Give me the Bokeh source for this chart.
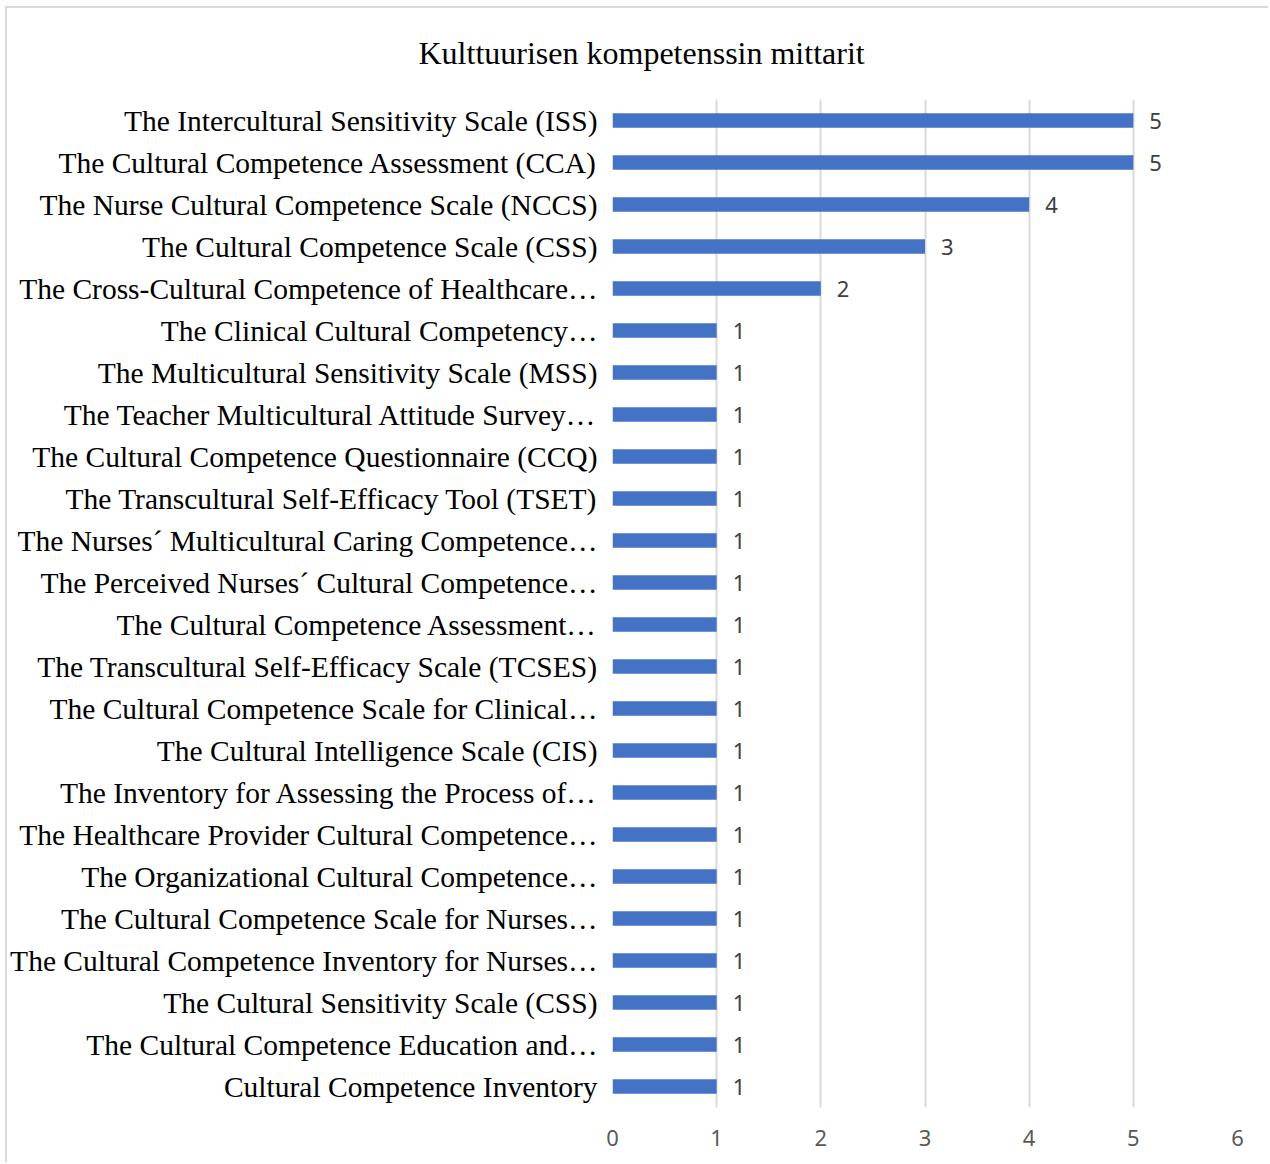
from bokeh.plotting import figure
from bokeh.models import FactorRange, ColumnDataSource, FixedTicker
from bokeh.core.properties import value
from bokeh.embed import file_html
from bokeh.resources import INLINE

title_text = "Kulttuurisen kompetenssin mittarit"

instruments = [
    "The Intercultural Sensitivity Scale (ISS)",
    "The Cultural Competence Assessment (CCA)",
    "The Nurse Cultural Competence Scale (NCCS)",
    "The Cultural Competence Scale (CSS)",
    "The Cross-Cultural Competence of Healthcare…",
    "The Clinical Cultural Competency…",
    "The Multicultural Sensitivity Scale (MSS)",
    "The Teacher Multicultural Attitude Survey…",
    "The Cultural Competence Questionnaire (CCQ)",
    "The Transcultural Self-Efficacy Tool (TSET)",
    "The Nurses´ Multicultural Caring Competence…",
    "The Perceived Nurses´ Cultural Competence…",
    "The Cultural Competence Assessment…",
    "The Transcultural Self-Efficacy Scale (TCSES)",
    "The Cultural Competence Scale for Clinical…",
    "The Cultural Intelligence Scale (CIS)",
    "The Inventory for Assessing the Process of…",
    "The Healthcare Provider Cultural Competence…",
    "The Organizational Cultural Competence…",
    "The Cultural Competence Scale for Nurses…",
    "The Cultural Competence Inventory for Nurses…",
    "The Cultural Sensitivity Scale (CSS)",
    "The Cultural Competence Education and…",
    "Cultural Competence Inventory",
]
counts = [5, 5, 4, 3, 2, 1, 1, 1, 1, 1, 1, 1, 1, 1, 1, 1, 1, 1, 1, 1, 1, 1, 1, 1]
x_ticks = [0, 1, 2, 3, 4, 5, 6]

src = ColumnDataSource(dict(y=instruments, v=counts, lab=[str(c) for c in counts]))

p = figure(
    width=1263, height=1156,
    y_range=FactorRange(*reversed(instruments), range_padding=0),
    x_range=(0, 6),
    output_backend="svg", toolbar_location=None,
    min_border_left=604, min_border_right=33, min_border_top=90, min_border_bottom=57,
)
p.styles = {"border-top": "2px solid #d9d9d9", "border-left": "2px solid #d9d9d9",
            "margin-left": "5px", "margin-top": "6px"}
p.outline_line_color = None

p.title.text = title_text
p.title.align = "left"
p.title.offset = -194
p.title.vertical_align = "top"
p.title.text_font = "Liberation Serif"
p.title.text_font_size = "32px"
p.title.text_font_style = "normal"
p.title.text_color = "#000000"
p.title.standoff = 53

p.hbar(y="y", right="v", left=0, height=0.34, source=src,
       fill_color="#4472C4", line_color=None)
p.text(x="v", y="y", text="lab", source=src, x_offset=16,
       text_align="left", text_baseline="middle",
       text_font=value("Noto Sans"), text_font_size="22px", text_color="#404040")

p.xaxis.ticker = FixedTicker(ticks=x_ticks)
p.xaxis.axis_line_color = None
p.xaxis.major_tick_line_color = None
p.xaxis.minor_tick_line_color = None
p.xaxis.major_tick_in = 0
p.xaxis.major_tick_out = 0
p.xaxis.major_label_text_font = "Noto Sans"
p.xaxis.major_label_text_font_size = "22px"
p.xaxis.major_label_text_color = "#595959"
p.xaxis.major_label_standoff = 22

p.yaxis.axis_line_color = None
p.yaxis.major_tick_line_color = None
p.yaxis.minor_tick_line_color = None
p.yaxis.major_tick_in = 0
p.yaxis.major_tick_out = 0
p.yaxis.major_label_text_font = "Liberation Serif"
p.yaxis.major_label_text_font_size = "29.5px"
p.yaxis.major_label_text_color = "#000000"
p.yaxis.major_label_standoff = 15

p.xgrid.grid_line_color = "#d9d9d9"
p.xgrid.grid_line_width = 2
p.ygrid.grid_line_color = None

open("out.html", "w").write(file_html(p, INLINE))
